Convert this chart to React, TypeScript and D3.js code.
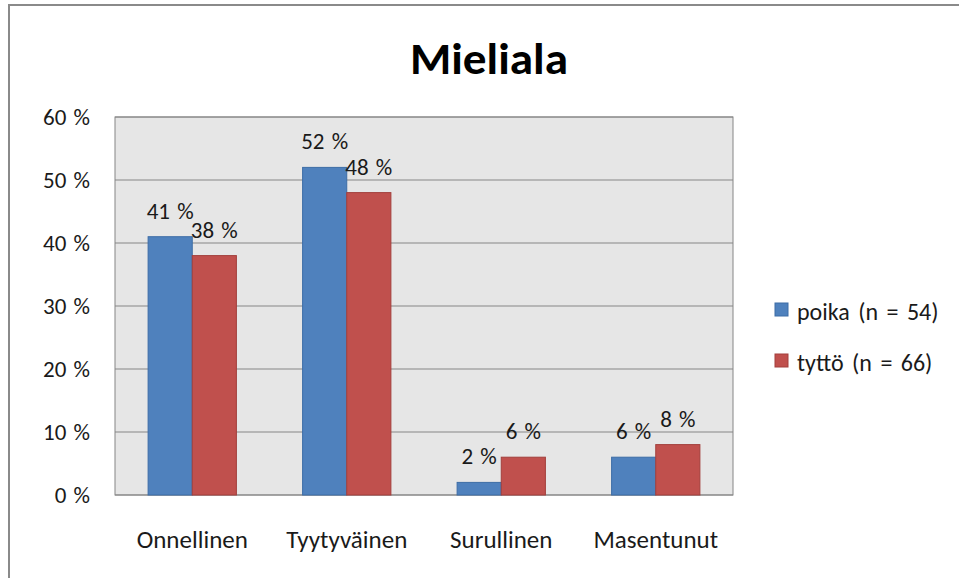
import { scaleBand, scaleLinear } from 'd3';

const categories = ['Onnellinen', 'Tyytyväinen', 'Surullinen', 'Masentunut'];
const seriesNames = ['poika (n = 54)', 'tyttö (n = 66)'];
const poika = [41, 52, 2, 6];
const tytto = [38, 48, 6, 8];
const yTicks = [0, 10, 20, 30, 40, 50, 60];

const colours = ['#4f81bd', '#c0504d'];
const strokes = ['#3d6da6', '#a33f3c'];
const FONT = 'Carlito, Lato, sans-serif';

const App = () => {
  const width = 959;
  const height = 578;
  const plot = { left: 115, top: 117, right: 733, bottom: 495 };

  const xScale = scaleBand()
    .domain(categories)
    .range([plot.left, plot.right])
    .paddingInner(0)
    .paddingOuter(0);
  const inner = scaleBand()
    .domain(['0', '1'])
    .range([0, xScale.bandwidth()])
    .paddingInner(0)
    .paddingOuter(0.75);
  const yScale = scaleLinear().domain([0, 60]).range([plot.bottom, plot.top]);

  const series = [poika, tytto];

  return (
    <svg
      width={width}
      height={height}
      style={{ position: 'absolute', left: 0, top: 0, fontFamily: FONT }}
    >
      <rect x={0} y={0} width={width} height={height} fill='#fff' />
      <line x1={9} y1={5} x2={9} y2={height} stroke='#8a8a8a' strokeWidth={2} />
      <line x1={8} y1={5} x2={width} y2={5} stroke='#8a8a8a' strokeWidth={2} />

      <text
        x={489}
        y={74}
        textAnchor='middle'
        fontSize={44}
        fontWeight='bold'
        textLength={158}
        lengthAdjust='spacingAndGlyphs'
      >
        Mieliala
      </text>

      <rect
        x={plot.left}
        y={plot.top}
        width={plot.right - plot.left}
        height={plot.bottom - plot.top}
        fill='#e6e6e6'
        stroke='#868686'
        strokeWidth={1}
      />
      {yTicks.map((t) => (
        <g key={t}>
          <line
            x1={plot.left}
            x2={plot.right}
            y1={yScale(t)}
            y2={yScale(t)}
            stroke='#868686'
            strokeWidth={1.2}
          />
          <text
            x={90}
            y={yScale(t) + 8}
            textAnchor='end'
            fontSize={23}
            fill='#1a1a1a'
            wordSpacing={2}
          >
            {t} %
          </text>
        </g>
      ))}

      {series.map((values, si) =>
        values.map((v, i) => {
          const x = (xScale(categories[i]) as number) + (inner(String(si)) as number);
          const y = yScale(v);
          return (
            <g key={`${si}-${i}`}>
              <rect
                x={x}
                y={y}
                width={inner.bandwidth()}
                height={plot.bottom - y}
                fill={colours[si]}
                stroke={strokes[si]}
                strokeWidth={1}
              />
              <text
                x={x + inner.bandwidth() / 2}
                y={y - 18}
                textAnchor='middle'
                fontSize={23}
                fill='#1a1a1a'
                wordSpacing={2}
              >
                {v} %
              </text>
            </g>
          );
        })
      )}

      {categories.map((c) => (
        <text
          key={c}
          x={(xScale(c) as number) + xScale.bandwidth() / 2}
          y={548}
          textAnchor='middle'
          fontSize={25}
          fill='#1a1a1a'
        >
          {c}
        </text>
      ))}

      {seriesNames.map((name, i) => (
        <g key={name} transform={`translate(775, ${303 + i * 51})`}>
          <rect x={0} y={0} width={13} height={13} fill={colours[i]} stroke={strokes[i]} />
          <text x={22} y={17} fontSize={24} fill='#1a1a1a' wordSpacing={3}>
            {name}
          </text>
        </g>
      ))}
    </svg>
  );
};

export default App;
